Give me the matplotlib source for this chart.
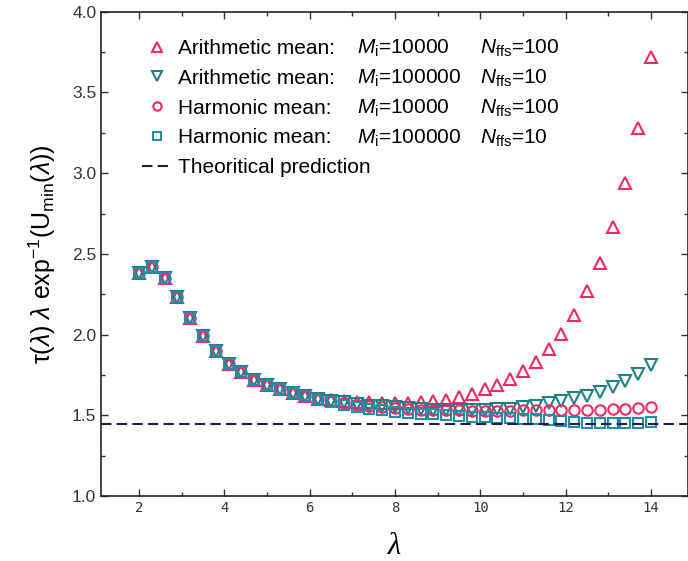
import matplotlib
matplotlib.use('Agg')
import matplotlib.pyplot as plt
import matplotlib.transforms as mtransforms
from matplotlib.ticker import MultipleLocator

plt.rcParams['mathtext.fontset'] = 'custom'
plt.rcParams['mathtext.rm'] = 'Liberation Sans'
plt.rcParams['mathtext.it'] = 'Liberation Sans:italic'
plt.rcParams['mathtext.cal'] = 'Liberation Serif:italic'

# lambda values
lam = [2.0, 2.3, 2.6, 2.9, 3.2, 3.5, 3.8, 4.1, 4.4, 4.7, 5.0, 5.3, 5.6, 5.9,
       6.2, 6.5, 6.8, 7.1, 7.4, 7.7, 8.0, 8.3, 8.6, 8.9, 9.2, 9.5, 9.8, 10.1,
       10.4, 10.7, 11.0, 11.3, 11.6, 11.9, 12.2, 12.5, 12.8, 13.1, 13.4, 13.7, 14.0]

# shared start of all curves (lambda 2.0 .. 5.9)
head = [2.38, 2.42, 2.35, 2.23, 2.10, 1.99, 1.90, 1.82, 1.77, 1.72, 1.69, 1.66, 1.64, 1.62]

arith_1e4 = head + [1.60, 1.595, 1.59, 1.585, 1.58, 1.578, 1.577, 1.578, 1.58, 1.589,
                    1.597, 1.614, 1.634, 1.66, 1.69, 1.727, 1.773, 1.83, 1.91, 2.006,
                    2.124, 2.27, 2.446, 2.667, 2.94, 3.28, 3.72]
arith_1e5 = head + [1.60, 1.59, 1.58, 1.57, 1.56, 1.555, 1.55, 1.545, 1.54, 1.535,
                    1.533, 1.532, 1.532, 1.533, 1.536, 1.54, 1.548, 1.56, 1.575, 1.59,
                    1.605, 1.62, 1.645, 1.675, 1.71, 1.754, 1.81]
harm_1e4 = head + [1.60, 1.59, 1.575, 1.565, 1.555, 1.55, 1.545, 1.54, 1.535, 1.533,
                   1.53, 1.53, 1.528, 1.528, 1.528, 1.528, 1.53, 1.53, 1.53, 1.53,
                   1.532, 1.533, 1.535, 1.537, 1.54, 1.543, 1.55]
harm_1e5 = head + [1.595, 1.58, 1.565, 1.55, 1.54, 1.53, 1.52, 1.515, 1.51, 1.505,
                   1.50, 1.495, 1.49, 1.488, 1.485, 1.48, 1.478, 1.475, 1.47, 1.465,
                   1.46, 1.452, 1.45, 1.45, 1.45, 1.452, 1.46]
theory = 1.448

# legend text, three columns
names = ['Arithmetic mean:', 'Arithmetic mean:', 'Harmonic mean:', 'Harmonic mean:']
m_text = ['$M_{\\rm i}$=10000', '$M_{\\rm i}$=100000', '$M_{\\rm i}$=10000', '$M_{\\rm i}$=100000']
n_text = ['$N_{\\rm ffs}$=100', '$N_{\\rm ffs}$=10', '$N_{\\rm ffs}$=100', '$N_{\\rm ffs}$=10']

red = '#ee2a5e'
teal = '#1f7f86'
blue = '#2a88a8'
fs_leg = 15

fig = plt.figure(figsize=(6.88, 5.61), dpi=100)
ax = fig.add_axes([0.147, 0.116, 0.853, 0.863])

ax.plot(lam, arith_1e4, ls='none', marker='^', ms=9, mfc='none', mec=red, mew=1.5, label=names[0])
ax.plot(lam, arith_1e5, ls='none', marker='v', ms=9, mfc='none', mec=teal, mew=1.5, label=names[1])
ax.plot(lam, harm_1e4, ls='none', marker='o', ms=7.5, mfc='none', mec=red, mew=1.5, label=names[2])
ax.plot(lam, harm_1e5, ls='none', marker='s', ms=7, mfc='none', mec=blue, mew=1.5, label=names[3])
ax.axhline(theory, color='#1c1f4a', lw=1.5, dashes=(5, 2.5), label='Theoritical prediction')

ax.set_xlim(1.11, 14.87)
ax.set_ylim(1.0, 4.0)
ax.xaxis.set_major_locator(MultipleLocator(2))
ax.xaxis.set_minor_locator(MultipleLocator(1))
ax.yaxis.set_major_locator(MultipleLocator(0.5))
ax.yaxis.set_minor_locator(MultipleLocator(0.25))
ax.tick_params(which='both', direction='in', top=True, right=True, width=1, colors='#333333')
ax.tick_params(which='major', length=5)
ax.tick_params(which='minor', length=3)
for lab in ax.get_xticklabels():
    lab.set_fontfamily('DejaVu Sans Mono')
    lab.set_fontsize(10)
for lab in ax.get_yticklabels():
    lab.set_fontfamily('Liberation Sans')
    lab.set_fontsize(12.5)
for s in ax.spines.values():
    s.set_linewidth(1.2)
    s.set_color('#222222')

ax.set_xlabel('$\\mathcal{\\lambda}$', fontsize=22, labelpad=12)
ax.set_ylabel('τ($\\lambda$) $\\lambda$ exp$^{-1}$(U$_{\\rm min}$($\\lambda$))',
              fontsize=18, family='Liberation Sans', labelpad=10)

leg = ax.legend(loc='upper left', bbox_to_anchor=(0.07, 0.944), frameon=False,
                prop={'family': 'Liberation Sans', 'size': fs_leg},
                handlelength=1.44, handletextpad=0.3, labelspacing=0.52,
                borderpad=0, borderaxespad=0, markerscale=0.8)

# the M and N columns sit on the baseline of each legend row
for t, m, n in zip(leg.get_texts()[:4], m_text, n_text):
    for xpos, s in [(0.436, m), (0.646, n)]:
        tr = mtransforms.blended_transform_factory(ax.transAxes, t.get_transform())
        ax.text(xpos, 0, s, transform=tr, va='baseline', ha='left', fontsize=fs_leg,
                family='Liberation Sans', color='black', zorder=10)

fig.savefig('out.png', dpi=100)
